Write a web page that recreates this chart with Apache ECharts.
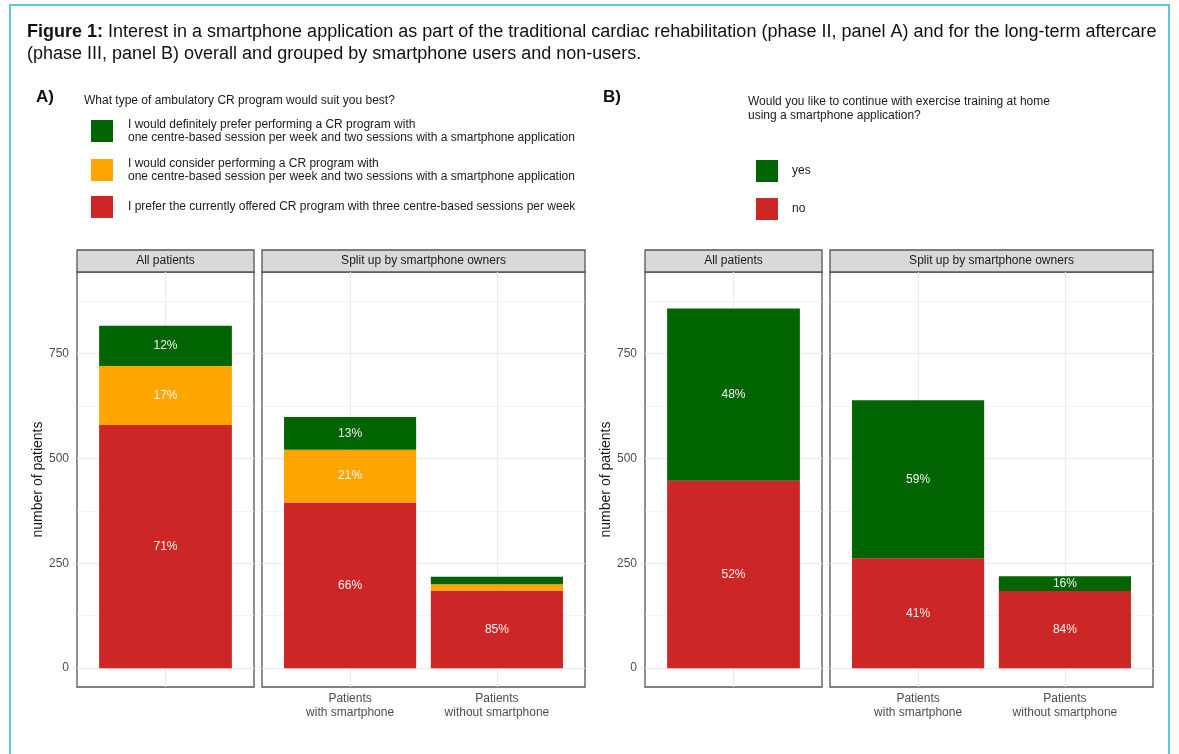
<!DOCTYPE html>
<html>
<head>
<meta charset="utf-8">
<script src="https://cdn.jsdelivr.net/npm/echarts@6.0.0/dist/echarts.min.js"></script>
<style>
html, body { margin: 0; padding: 0; background: #ffffff; }
#chart { width: 1179px; height: 754px; }
</style>
</head>
<body>
<div id="chart"></div>
<script>
// ---------------- data ----------------
const FACETS = ['All patients', 'Split up by smartphone owners'];
const ALL_CATEGORY = ['All patients'];
const SPLIT_CATEGORIES = ['Patients\nwith smartphone', 'Patients\nwithout smartphone'];
// group order: [all patients, with smartphone, without smartphone]
const A_DEFINITELY = [96, 78, 18];
const A_CONSIDER = [141, 126, 15];
const A_CURRENT = [580, 395, 185];
const B_YES = [411, 377, 35];
const B_NO = [447, 262, 184];
const Y_TICKS = [0, 250, 500, 750];
const Y_MINOR_TICKS = [125, 375, 625, 875];
const LEGEND_A = [
  'I would definitely prefer performing a CR program with\none centre-based session per week and two sessions with a smartphone application',
  'I would consider performing a CR program with\none centre-based session per week and two sessions with a smartphone application',
  'I prefer the currently offered CR program with three centre-based sessions per week'
];
const LEGEND_B = ['yes', 'no'];
const TITLE_A = 'What type of ambulatory CR program would suit you best?';
const TITLE_B = 'Would you like to continue with exercise training at home\nusing a smartphone application?';
const CAPTION = '{b|Figure 1:} Interest in a smartphone application as part of the traditional cardiac rehabilitation (phase II, panel A) and for the long-term aftercare\n(phase III, panel B) overall and grouped by smartphone users and non-users.';
const Y_NAME = 'number of patients';

// ---------------- style / layout ----------------
const FONT = '"Liberation Sans", Arial, sans-serif';
const GREEN = '#006400', ORANGE = '#FFA500', RED = '#CD2626';
const GRID_TOP = 272, GRID_H = 415, STRIP_H = 22;
const Y_MIN = -45, Y_MAX = 945;
const FACET_BOXES = [
  { left: 77, width: 177, n: 1, facet: 0 },
  { left: 262, width: 323, n: 2, facet: 1 },
  { left: 645, width: 177, n: 1, facet: 0 },
  { left: 830, width: 323, n: 2, facet: 1 }
];
const BORDER = '#555555';
const GRIDLINE = '#EBEBEB';
const NB = FACET_BOXES.length;

const totalsA = A_CURRENT.map((v, i) => v + A_CONSIDER[i] + A_DEFINITELY[i]);
const totalsB = B_NO.map((v, i) => v + B_YES[i]);

// background grids (0..3): border, gridlines, y labels
// data grids (4..7): category axes holding the bars, spanning the discrete bands only
const grids = [];
const xAxes = [];
const yAxes = [];
FACET_BOXES.forEach((g, i) => {
  grids.push({
    left: g.left, top: GRID_TOP, width: g.width, height: GRID_H,
    show: true, borderColor: BORDER, borderWidth: 1.3, backgroundColor: 'transparent',
    outerBoundsMode: 'none', containLabel: false
  });
  xAxes.push({
    type: 'value', gridIndex: i, min: 0.4, max: g.n + 0.6,
    axisLine: { show: false }, axisTick: { show: false }, splitLine: { show: false },
    axisLabel: { show: false }
  });
  yAxes.push({
    type: 'value', gridIndex: i, min: Y_MIN, max: Y_MAX,
    axisLine: { show: false }, axisTick: { show: false }, splitLine: { show: false },
    axisLabel: {
      show: g.facet === 0, customValues: Y_TICKS, margin: 8,
      color: '#4d4d4d', fontSize: 12, fontFamily: FONT
    },
    name: g.facet === 0 ? Y_NAME : '',
    nameLocation: 'middle', nameGap: 30, nameRotate: 90,
    nameTextStyle: { color: '#1a1a1a', fontSize: 14, fontFamily: FONT }
  });
});
FACET_BOXES.forEach((g, i) => {
  const unit = g.width / (g.n + 0.2);
  grids.push({
    left: g.left + 0.1 * unit, top: GRID_TOP, width: g.n * unit, height: GRID_H,
    show: false, outerBoundsMode: 'none', containLabel: false
  });
  xAxes.push({
    type: 'category', gridIndex: NB + i, boundaryGap: true,
    data: g.facet === 0 ? ALL_CATEGORY : SPLIT_CATEGORIES,
    axisLine: { show: false }, axisTick: { show: false }, splitLine: { show: false },
    axisLabel: {
      show: g.facet === 1, margin: 5, interval: 0,
      color: '#4d4d4d', fontSize: 12, fontFamily: FONT, lineHeight: 14
    }
  });
  yAxes.push({
    type: 'value', gridIndex: NB + i, min: Y_MIN, max: Y_MAX,
    axisLine: { show: false }, axisTick: { show: false }, splitLine: { show: false },
    axisLabel: { show: false }
  });
});

function stackSeries(name, color, values, totals, boxIdx, groups, stackId) {
  return {
    type: 'bar', name: name, stack: stackId,
    xAxisIndex: NB + boxIdx, yAxisIndex: NB + boxIdx,
    barWidth: '90%',
    itemStyle: { color: color },
    z: 3,
    label: { show: true, position: 'inside', color: '#f5f5f5', fontSize: 12, fontFamily: FONT },
    data: groups.map(gi => {
      const pct = Math.round(values[gi] / totals[gi] * 100);
      return { value: values[gi], label: { show: pct >= 10, formatter: pct + '%' } };
    })
  };
}

function gridLineSeries(boxIdx) {
  const g = FACET_BOXES[boxIdx];
  const xs = [];
  for (let k = 1; k <= g.n; k++) xs.push(k);
  return {
    type: 'line', xAxisIndex: boxIdx, yAxisIndex: boxIdx, data: [], silent: true, z: 1,
    markLine: {
      silent: true, symbol: 'none', z: 1, animation: false,
      label: { show: false },
      lineStyle: { color: GRIDLINE, type: 'solid', width: 1 },
      data: [].concat(
        Y_TICKS.map(v => ({ yAxis: v, lineStyle: { color: GRIDLINE, width: 1.1, type: 'solid' } })),
        Y_MINOR_TICKS.map(v => ({ yAxis: v, lineStyle: { color: GRIDLINE, width: 0.6, type: 'solid' } })),
        xs.map(x => ({ xAxis: x, lineStyle: { color: GRIDLINE, width: 1.1, type: 'solid' } }))
      )
    }
  };
}

const series = [];
for (let i = 0; i < NB; i++) series.push(gridLineSeries(i));
// panel A
[[0, [0]], [1, [1, 2]]].forEach(([bi, groups]) => {
  series.push(stackSeries(LEGEND_A[2], RED, A_CURRENT, totalsA, bi, groups, 'A' + bi));
  series.push(stackSeries(LEGEND_A[1], ORANGE, A_CONSIDER, totalsA, bi, groups, 'A' + bi));
  series.push(stackSeries(LEGEND_A[0], GREEN, A_DEFINITELY, totalsA, bi, groups, 'A' + bi));
});
// panel B
[[2, [0]], [3, [1, 2]]].forEach(([bi, groups]) => {
  series.push(stackSeries(LEGEND_B[1], RED, B_NO, totalsB, bi, groups, 'B' + bi));
  series.push(stackSeries(LEGEND_B[0], GREEN, B_YES, totalsB, bi, groups, 'B' + bi));
});

// strips & decorations
const graphics = [
  { type: 'rect', shape: { x: 10, y: 5, width: 1159, height: 800 }, silent: true,
    style: { fill: 'none', stroke: '#5BC8DC', lineWidth: 2 }, z: 100 },
  { type: 'text', x: 36, y: 97, silent: true,
    style: { text: 'A)', fontSize: 17, fontWeight: 'bold', fontFamily: FONT, fill: '#111', verticalAlign: 'middle' } },
  { type: 'text', x: 603, y: 97, silent: true,
    style: { text: 'B)', fontSize: 17, fontWeight: 'bold', fontFamily: FONT, fill: '#111', verticalAlign: 'middle' } },
  { type: 'text', x: 84, y: 101, silent: true,
    style: { text: TITLE_A, fontSize: 12, fontFamily: FONT, fill: '#1a1a1a', verticalAlign: 'middle' } },
  { type: 'text', x: 748, y: 95, silent: true,
    style: { text: TITLE_B, fontSize: 12, fontFamily: FONT, fill: '#1a1a1a', lineHeight: 14, verticalAlign: 'top' } }
];
FACET_BOXES.forEach(g => {
  graphics.push({
    type: 'rect', silent: true,
    shape: { x: g.left, y: GRID_TOP - STRIP_H, width: g.width, height: STRIP_H },
    style: { fill: '#D9D9D9', stroke: BORDER, lineWidth: 1.3 }
  });
  graphics.push({
    type: 'text', silent: true, x: g.left + g.width / 2, y: GRID_TOP - STRIP_H / 2,
    style: { text: FACETS[g.facet], fontSize: 12, fontFamily: FONT, fill: '#1a1a1a', align: 'center', verticalAlign: 'middle' }
  });
});

const option = {
  animation: false,
  backgroundColor: '#ffffff',
  textStyle: { fontFamily: FONT },
  title: {
    left: 27, top: 21, padding: 0,
    text: CAPTION,
    textStyle: {
      fontSize: 18, fontWeight: 'normal', color: '#111', fontFamily: FONT, lineHeight: 22,
      rich: { b: { fontSize: 18, fontWeight: 'bold', color: '#111', fontFamily: FONT, lineHeight: 22 } }
    }
  },
  legend: [
    {
      data: [LEGEND_A[0], LEGEND_A[1], LEGEND_A[2]],
      orient: 'vertical', left: 91, top: 118, padding: 0,
      itemWidth: 22, itemHeight: 22, itemGap: 13, icon: 'rect', selectedMode: false,
      textStyle: { fontSize: 12, lineHeight: 13, color: '#1a1a1a', fontFamily: FONT, padding: [0, 0, 0, 10] }
    },
    {
      data: [LEGEND_B[0], LEGEND_B[1]],
      orient: 'vertical', left: 756, top: 160, padding: 0,
      itemWidth: 22, itemHeight: 22, itemGap: 16, icon: 'rect', selectedMode: false,
      textStyle: { fontSize: 12, color: '#1a1a1a', fontFamily: FONT, padding: [0, 0, 0, 9] }
    }
  ],
  grid: grids,
  xAxis: xAxes,
  yAxis: yAxes,
  series: series,
  graphic: graphics
};

const chart = echarts.init(document.getElementById('chart'), null, { renderer: 'canvas' });
chart.setOption(option);
</script>
</body>
</html>
